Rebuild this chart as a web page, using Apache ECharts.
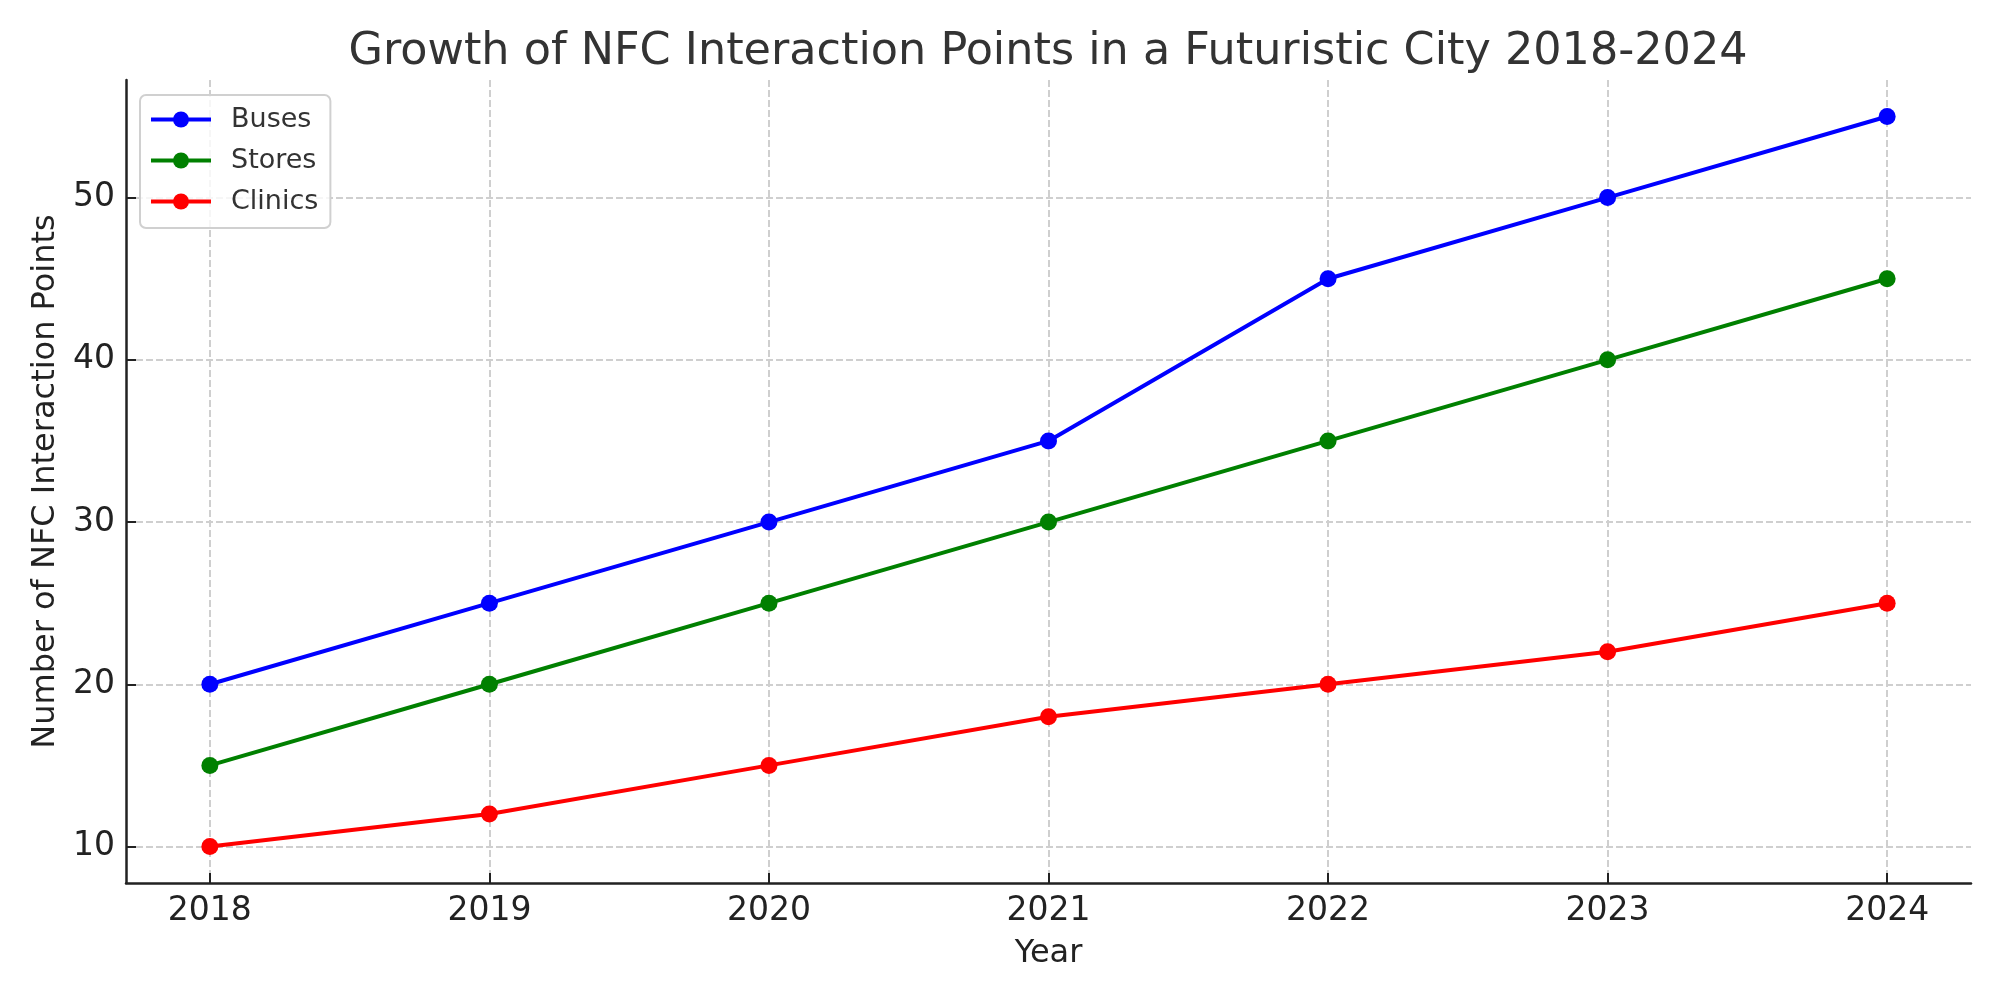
<!DOCTYPE html>
<html>
<head>
<meta charset="utf-8">
<script src="https://cdn.jsdelivr.net/npm/echarts@6/dist/echarts.min.js"></script>
<style>html,body{margin:0;padding:0;background:#fff}#c{width:2000px;height:1000px}</style>
</head>
<body>
<div id="c"></div>
<script>
const years = [2018, 2019, 2020, 2021, 2022, 2023, 2024];
const buses = [20, 25, 30, 35, 45, 50, 55];
const stores = [15, 20, 25, 30, 35, 40, 45];
const clinics = [10, 12, 15, 18, 20, 22, 25];
const yTicks = [10, 20, 30, 40, 50];
const seriesNames = ['Buses', 'Stores', 'Clinics'];
const seriesColors = ['#0000ff', '#008000', '#ff0000'];
const seriesData = [buses, stores, clinics];

const FONT = 'DejaVu Sans';
const chart = echarts.init(document.getElementById('c'), null, {renderer: 'canvas'});
const gridLine = {show: true, lineStyle: {color: '#cfcfcf', width: 2, type: [7, 3]}};
chart.setOption({
  animation: false,
  backgroundColor: '#fff',
  title: {
    text: 'Growth of NFC Interaction Points in a Futuristic City 2018-2024',
    left: 1043, textAlign: 'center', top: 25,
    textStyle: {fontFamily: FONT, fontSize: 44.5, fontWeight: 'normal', color: '#333'}
  },
  legend: {
    orient: 'vertical', left: 140, top: 95,
    padding: [11, 12, 13, 9],
    itemGap: 14, itemWidth: 60, itemHeight: 20,
    borderColor: '#d0d0d0', borderWidth: 2, borderRadius: 6,
    backgroundColor: 'rgba(255,255,255,0.8)',
    lineStyle: {width: 4},
    textStyle: {fontFamily: FONT, fontSize: 27, color: '#333', padding: [0, 0, 0, 15]},
    data: seriesNames
  },
  grid: {left: 126, right: 29, top: 80, bottom: 117, containLabel: false},
  xAxis: {
    type: 'value', min: 2017.7, max: 2024.3,
    name: 'Year', nameLocation: 'middle', nameGap: 55,
    nameTextStyle: {fontFamily: FONT, fontSize: 32, color: '#222'},
    axisLine: {show: true, onZero: false, lineStyle: {color: '#222', width: 2.5}},
    axisTick: {show: true, inside: true, length: 10, lineStyle: {color: '#222', width: 2}, customValues: years},
    axisLabel: {fontFamily: FONT, fontSize: 33, color: '#222', margin: 12, customValues: years, formatter: v => String(v)},
    splitLine: gridLine
  },
  yAxis: {
    type: 'value', min: 7.75, max: 57.25,
    name: 'Number of NFC Interaction Points', nameLocation: 'middle', nameGap: 64,
    nameTextStyle: {fontFamily: FONT, fontSize: 32, color: '#222'},
    axisLine: {show: true, onZero: false, lineStyle: {color: '#222', width: 2.5}},
    axisTick: {show: true, inside: true, length: 10, lineStyle: {color: '#222', width: 2}, customValues: yTicks},
    axisLabel: {fontFamily: FONT, fontSize: 33, color: '#222', margin: 11, customValues: yTicks},
    splitLine: gridLine
  },
  series: seriesNames.map((name, i) => ({
    name: name, type: 'line',
    data: years.map((y, j) => [y, seriesData[i][j]]),
    symbol: 'circle', symbolSize: 17,
    lineStyle: {color: seriesColors[i], width: 4},
    itemStyle: {color: seriesColors[i]},
    clip: false
  }))
});
</script>
</body>
</html>
